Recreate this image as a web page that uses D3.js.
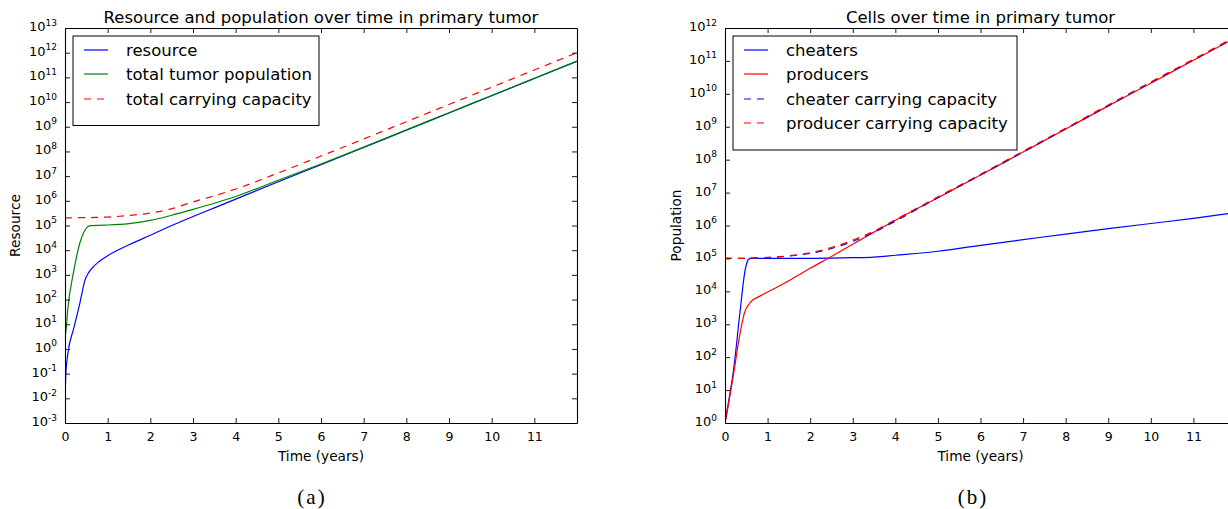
<!DOCTYPE html>
<html>
<head>
<meta charset="utf-8">
<script src="https://cdnjs.cloudflare.com/ajax/libs/d3/7.8.5/d3.min.js"></script>
<style>
  body { margin: 0; background: #fff; }
  svg { display: block; font-family: "DejaVu Sans", sans-serif; }
</style>
</head>
<body>
<div id="chart"></div>
<script>
// sample times (years) shared by every series
const years = [0, 0.02, 0.07, 0.2, 0.35, 0.47, 0.55, 0.6, 0.8, 1, 1.5, 2, 2.5, 3, 3.5, 4, 5, 6, 7, 8, 9, 10, 11, 12];

// (a) resource and population
const resource = [1e-2, 1e-1, 0.7, 6.3, 74, 630, 1200, 1600, 3500, 6000, 1.66e4, 4e4, 1e5, 2.3e5, 5.2e5, 1.17e6, 5.9e6, 2.9e7, 1.45e8, 7.2e8, 3.6e9, 1.8e10, 9e10, 4.5e11];
const tumorPopulation = [3, 5, 50, 1300, 2e4, 6.6e4, 9.3e4, 9.8e4, 1.02e5, 1.05e5, 1.2e5, 1.6e5, 2.6e5, 4.5e5, 8e5, 1.5e6, 6.8e6, 3.1e7, 1.5e8, 7.5e8, 3.7e9, 1.85e10, 9.2e10, 4.6e11];
const totalCapacity = [2.05e5, 2.05e5, 2.05e5, 2.06e5, 2.07e5, 2.08e5, 2.09e5, 2.1e5, 2.15e5, 2.2e5, 2.55e5, 3.2e5, 4.8e5, 9e5, 1.6e6, 3e6, 1.35e7, 6.5e7, 3.2e8, 1.6e9, 8e9, 4e10, 2e11, 1e12];

// (b) cells
const cheaters = [1, 1.5, 3.5, 40, 2.2e3, 4.2e4, 9.3e4, 1e5, 1e5, 1e5, 1e5, 1e5, 1.02e5, 1.05e5, 1.1e5, 1.25e5, 1.65e5, 2.5e5, 3.7e5, 5.5e5, 8e5, 1.15e6, 1.65e6, 2.5e6];
const producers = [1, 1.3, 3, 30, 500, 2.5e3, 3.8e3, 4.7e3, 6.9e3, 9.5e3, 2.1e4, 5e4, 1.15e5, 2.7e5, 6.3e5, 1.45e6, 7e6, 3.4e7, 1.7e8, 8.5e8, 4.3e9, 2.1e10, 1.05e11, 5.1e11];
const cheaterCapacity = [1e5, 1e5, 1e5, 1e5, 1e5, 1.01e5, 1.01e5, 1.02e5, 1.04e5, 1.06e5, 1.18e5, 1.42e5, 2e5, 3.3e5, 6.2e5, 1.35e6, 7e6, 3.4e7, 1.7e8, 8.6e8, 4.3e9, 2.2e10, 1.07e11, 5.3e11];
const producerCapacity = [1e5, 1e5, 1e5, 1e5, 1e5, 1.01e5, 1.01e5, 1.02e5, 1.04e5, 1.07e5, 1.2e5, 1.48e5, 2.15e5, 3.6e5, 6.8e5, 1.5e6, 7.4e6, 3.6e7, 1.8e8, 9e8, 4.6e9, 2.3e10, 1.12e11, 5.6e11];

const xTicks = [0, 1, 2, 3, 4, 5, 6, 7, 8, 9, 10, 11];
const exponentsA = d3.range(-3, 14); // 10^-3 .. 10^13
const exponentsB = d3.range(0, 13);  // 10^0 .. 10^12

const width = 1228, height = 509;
const plotTop = 28, plotBottom = 423;
const dash = "7,6";

const svg = d3.select("#chart").append("svg")
  .attr("width", width)
  .attr("height", height);

function drawPanel(cfg) {
  const x = d3.scaleLinear().domain([0, 12]).range([cfg.left, cfg.right]);
  const y = d3.scaleLog().domain([Math.pow(10, cfg.exps[0]), Math.pow(10, cfg.exps[cfg.exps.length - 1])]).range([plotBottom, plotTop]);
  const g = svg.append("g");

  g.append("clipPath").attr("id", cfg.id + "_clip")
    .append("rect")
    .attr("x", cfg.left).attr("y", plotTop)
    .attr("width", cfg.right - cfg.left).attr("height", plotBottom - plotTop);

  // the lines
  const line = d3.line()
    .x((d, i) => x(years[i]))
    .y(d => y(d))
    .curve(d3.curveMonotoneX);
  const lines = g.append("g").attr("clip-path", `url(#${cfg.id}_clip)`);
  cfg.series.forEach(s => {
    lines.append("path")
      .datum(s.values)
      .attr("fill", "none")
      .attr("stroke", s.color)
      .attr("stroke-width", 1.2)
      .attr("stroke-dasharray", s.dashed ? dash : null)
      .attr("d", line);
  });

  // axes, ticks pointing inwards on all four sides
  const tickVals = cfg.exps.map(e => Math.pow(10, e));
  g.append("g").attr("transform", `translate(0,${plotBottom})`)
    .call(d3.axisBottom(x).tickValues(xTicks).tickSizeInner(-5).tickSizeOuter(0).tickPadding(9))
    .call(styleAxis);
  g.append("g").attr("transform", `translate(0,${plotTop})`)
    .call(d3.axisTop(x).tickValues(xTicks).tickSizeInner(-5).tickSizeOuter(0).tickFormat(""))
    .call(styleAxis);
  g.append("g").attr("transform", `translate(${cfg.right},0)`)
    .call(d3.axisRight(y).tickValues(tickVals).tickSizeInner(-5).tickSizeOuter(0).tickFormat(""))
    .call(styleAxis);
  const yAxis = g.append("g").attr("transform", `translate(${cfg.left},0)`)
    .call(d3.axisLeft(y).tickValues(tickVals).tickSizeInner(-5).tickSizeOuter(0).tickPadding(8))
    .call(styleAxis);

  // 10 with the exponent as a superscript
  yAxis.selectAll(".tick text").each(function (d) {
    const t = d3.select(this).text(null).attr("dy", null).attr("y", 2.5).attr("x", -8);
    t.append("tspan").attr("font-size", 13).text("10");
    t.append("tspan").attr("font-size", 9).attr("dy", -5.5).text(String(Math.round(Math.log10(d))));
  });

  // title and axis labels
  g.append("text")
    .attr("x", (cfg.left + cfg.right) / 2).attr("y", 23)
    .attr("text-anchor", "middle").attr("font-size", 16.5).attr("fill", "#000")
    .text(cfg.title);
  g.append("text")
    .attr("x", (cfg.left + cfg.right) / 2).attr("y", 461)
    .attr("text-anchor", "middle").attr("font-size", 13.7).attr("fill", "#000")
    .text("Time (years)");
  g.append("text")
    .attr("transform", `translate(${cfg.yLabelX},${(plotTop + plotBottom) / 2}) rotate(-90)`)
    .attr("text-anchor", "middle").attr("font-size", 13.7).attr("fill", "#000")
    .text(cfg.yLabel);

  // legend
  const lg = g.append("g").attr("transform", `translate(${cfg.left + 8},36)`);
  lg.append("rect")
    .attr("width", cfg.legendWidth).attr("height", 14 + cfg.series.length * 24.5 + 2)
    .attr("fill", "#fff").attr("stroke", "#000").attr("stroke-width", 1);
  cfg.series.forEach((s, i) => {
    const ry = Math.round(14 + i * 24.3);
    lg.append("line")
      .attr("x1", 11).attr("x2", 35).attr("y1", ry).attr("y2", ry)
      .attr("stroke", s.color).attr("stroke-width", 1.2)
      .attr("stroke-dasharray", s.dashed ? dash : null);
    lg.append("text")
      .attr("x", 53).attr("y", ry + 6)
      .attr("font-size", 16.5).attr("fill", "#000")
      .text(s.name);
  });

  // caption under the panel
  svg.append("text")
    .attr("x", cfg.captionX).attr("y", 504)
    .attr("text-anchor", "middle")
    .attr("font-family", "'Liberation Serif', serif").attr("font-size", 21)
    .attr("letter-spacing", 2)
    .attr("fill", "#000")
    .text(cfg.caption);
}

function styleAxis(sel) {
  sel.select(".domain").attr("stroke", "#000").attr("stroke-width", 1.1);
  sel.selectAll(".tick line").attr("stroke", "#000").attr("stroke-width", 0.9);
  sel.selectAll(".tick text")
    .attr("font-family", "'DejaVu Sans', sans-serif")
    .attr("font-size", 12.5).attr("fill", "#000");
}

drawPanel({
  id: "a", left: 65, right: 577, exps: exponentsA,
  title: "Resource and population over time in primary tumor",
  yLabel: "Resource", yLabelX: 20, legendWidth: 246,
  caption: "(a)", captionX: 312,
  series: [
    { name: "resource", values: resource, color: "#0000ff" },
    { name: "total tumor population", values: tumorPopulation, color: "#008000" },
    { name: "total carrying capacity", values: totalCapacity, color: "#ff0000", dashed: true }
  ]
});

drawPanel({
  id: "b", left: 725, right: 1236, exps: exponentsB,
  title: "Cells over time in primary tumor",
  yLabel: "Population", yLabelX: 681, legendWidth: 284,
  caption: "(b)", captionX: 973,
  series: [
    { name: "cheaters", values: cheaters, color: "#0000ff" },
    { name: "producers", values: producers, color: "#ff0000" },
    { name: "cheater carrying capacity", values: cheaterCapacity, color: "#0000ff", dashed: true },
    { name: "producer carrying capacity", values: producerCapacity, color: "#ff0000", dashed: true }
  ]
});
</script>
</body>
</html>
